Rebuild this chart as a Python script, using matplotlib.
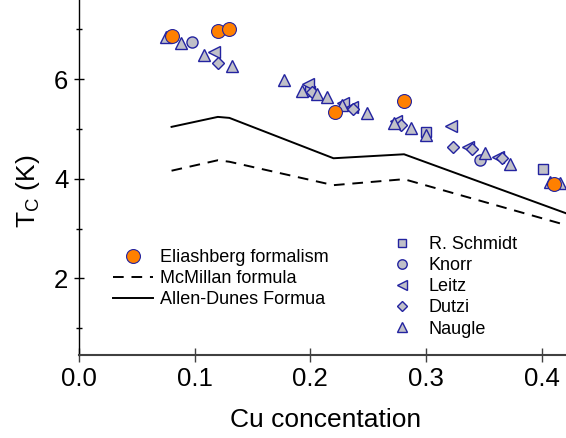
import matplotlib
matplotlib.use("Agg")
import matplotlib.pyplot as plt
from matplotlib.ticker import MultipleLocator

plt.rcParams['font.family'] = ['Liberation Sans', 'DejaVu Sans']

# calculated Tc (lines and Eliashberg points)
x_eli = [0.08, 0.12, 0.13, 0.221, 0.281, 0.411]
tc_eli = [6.87, 6.97, 7.0, 5.34, 5.56, 3.89]

x_calc = [0.08, 0.12, 0.13, 0.22, 0.281, 0.43]
tc_mcmillan = [4.16, 4.37, 4.34, 3.87, 3.99, 3.01]
tc_allen = [5.04, 5.24, 5.22, 4.41, 4.49, 3.23]

# experimental data
x_schmidt = [0.200, 0.300, 0.401]
tc_schmidt = [5.76, 4.94, 4.19]

x_knorr = [0.098, 0.347]
tc_knorr = [6.74, 4.37]

x_leitz = [0.117, 0.198, 0.228, 0.236, 0.274, 0.322, 0.336, 0.362]
tc_leitz = [6.55, 5.91, 5.52, 5.44, 5.16, 5.06, 4.63, 4.43]

x_dutzi = [0.120, 0.201, 0.237, 0.278, 0.323, 0.340, 0.366]
tc_dutzi = [6.33, 5.74, 5.39, 5.08, 4.63, 4.60, 4.41]

x_naugle = [0.075, 0.088, 0.108, 0.132, 0.177, 0.193, 0.206, 0.214, 0.227,
            0.249, 0.272, 0.287, 0.300, 0.351, 0.373, 0.407, 0.416]
tc_naugle = [6.85, 6.73, 6.48, 6.27, 5.98, 5.75, 5.70, 5.63, 5.48,
             5.32, 5.12, 5.01, 4.88, 4.52, 4.29, 3.94, 3.92]

gris = '#c0c0c8'
azul = '#2323a0'

fig = plt.figure(figsize=(5.66, 4.38), dpi=100)
ax = fig.add_axes([0.1396, 0.19, 0.8604, 0.81])

l_mc, = ax.plot(x_calc, tc_mcmillan, color='black', lw=1.4, dashes=(5.5, 4), label='McMillan formula')
l_ad, = ax.plot(x_calc, tc_allen, color='black', lw=1.4, label='Allen-Dunes Formua')

estilo = dict(linestyle='none', mfc=gris, mec=azul, mew=1)
p_s, = ax.plot(x_schmidt, tc_schmidt, marker='s', ms=7.5, label='R. Schmidt', **estilo)
p_k, = ax.plot(x_knorr, tc_knorr, marker='o', ms=8, label='Knorr', **estilo)
p_l, = ax.plot(x_leitz, tc_leitz, marker='<', ms=9, label='Leitz', **estilo)
p_d, = ax.plot(x_dutzi, tc_dutzi, marker='D', ms=6.5, label='Dutzi', **estilo)
p_n, = ax.plot(x_naugle, tc_naugle, marker='^', ms=9, label='Naugle', **estilo)
p_e, = ax.plot(x_eli, tc_eli, linestyle='none', marker='o', ms=10, mfc='#ff8000', mec=azul, mew=0.8,
               label='Eliashberg formalism')

ax.set_xlim(0, 0.421)
ax.set_ylim(0.466, 7.586)
ax.xaxis.set_major_locator(MultipleLocator(0.1))
ax.yaxis.set_major_locator(MultipleLocator(2))
ax.yaxis.set_minor_locator(MultipleLocator(1))
ax.xaxis.set_major_formatter(plt.FormatStrFormatter('%.1f'))

for s in ['top', 'right']:
    ax.spines[s].set_visible(False)
ax.spines['bottom'].set_color('#404040')
ax.spines['bottom'].set_linewidth(1.5)
ax.spines['left'].set_linewidth(1.0)

ax.tick_params(axis='x', which='major', direction='inout', length=10, width=1, labelsize=18.5, pad=4, color='#404040')
ax.tick_params(axis='y', which='major', direction='inout', length=7.2, width=1, labelsize=18.5, pad=4)
ax.tick_params(axis='y', which='minor', direction='inout', length=5, width=1)

ax.set_xlabel('Cu concentation', fontsize=19)
ax.set_ylabel(r'T$_\mathregular{C}$ (K)', fontsize=19)
ax.xaxis.set_label_coords(0.507, -0.15)
ax.yaxis.set_label_coords(-0.075, 0.46)

leg_kw = dict(frameon=False, fontsize=13, handlelength=2.2, handletextpad=0.4,
              labelspacing=0.23, borderpad=0, borderaxespad=0, loc='upper left')
leg1 = ax.legend(handles=[p_e, l_mc, l_ad], bbox_to_anchor=(0.0698, 0.298), **leg_kw)
ax.add_artist(leg1)
ax.legend(handles=[p_s, p_k, p_l, p_d, p_n], bbox_to_anchor=(0.622, 0.335), markerscale=0.85, **leg_kw)

fig.savefig('out.png', dpi=100)
